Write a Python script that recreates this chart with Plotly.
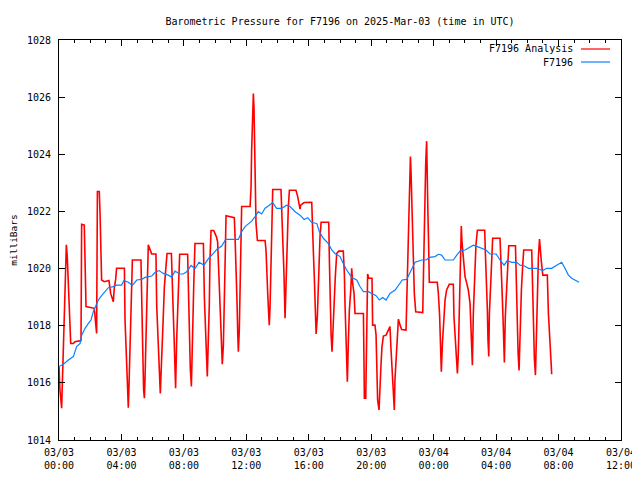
import plotly.graph_objects as go
import pandas as pd

TITLE = "Barometric Pressure for F7196 on 2025-Mar-03 (time in UTC)"
START = "2025-03-03 00:00"
END = "2025-03-04 12:00"

# Red "F7196 Analysis" series: hours after 2025-03-03 00:00 UTC and pressure (mb)
analysis_hours = [
    0.00, 0.06, 0.17, 0.21, 0.28, 0.38, 0.43, 0.47, 0.53, 0.60, 0.68, 0.75, 0.92, 1.02, 1.41, 1.45,
    1.62, 1.67, 1.73, 2.26, 2.35, 2.41, 2.46, 2.58, 2.63, 2.67, 2.73, 2.90, 3.20, 3.31, 3.42, 3.48,
    3.54, 3.63, 3.69, 4.19, 4.23, 4.33, 4.40, 4.44, 4.48, 4.55, 4.61, 4.70, 5.25, 5.30, 5.36, 5.42,
    5.47, 5.51, 5.57, 5.64, 5.68, 5.72, 5.94, 6.21, 6.26, 6.36, 6.43, 6.49, 6.53, 6.62, 6.68, 6.75,
    6.83, 6.92, 7.20, 7.24, 7.30, 7.37, 7.43, 7.47, 7.54, 7.62, 7.69, 7.73, 8.24, 8.29, 8.35, 8.41,
    8.48, 8.54, 8.63, 8.71, 9.25, 9.31, 9.40, 9.46, 9.50, 9.57, 9.63, 9.67, 9.74, 9.91, 10.08, 10.16,
    10.21, 10.27, 10.36, 10.42, 10.46, 10.53, 10.59, 10.63, 10.70, 11.23, 11.27, 11.34, 11.40, 11.45,
    11.49, 11.55, 11.62, 11.70, 12.24, 12.30, 12.34, 12.41, 12.45, 12.49, 12.53, 12.57, 12.62, 12.71,
    13.20, 13.26, 13.30, 13.37, 13.43, 13.47, 13.52, 13.58, 13.62, 13.69, 14.22, 14.26, 14.33, 14.41,
    14.48, 14.54, 14.63, 14.69, 14.76, 15.18, 15.29, 15.38, 15.44, 15.48, 15.70, 16.19, 16.25, 16.29,
    16.36, 16.42, 16.47, 16.55, 16.61, 16.68, 16.72, 16.79, 17.28, 17.32, 17.36, 17.43, 17.49, 17.55,
    17.62, 17.70, 17.79, 17.92, 18.21, 18.28, 18.32, 18.36, 18.43, 18.47, 18.54, 18.60, 18.69, 18.75,
    18.81, 18.90, 18.96, 19.50, 19.54, 19.56, 19.65, 19.67, 19.71, 19.77, 19.84, 20.05, 20.09, 20.24,
    20.31, 20.35, 20.41, 20.50, 20.56, 20.63, 20.69, 20.78, 20.95, 21.12, 21.20, 21.27, 21.35, 21.42,
    21.48, 21.52, 21.59, 21.68, 21.74, 21.85, 21.95, 22.23, 22.27, 22.38, 22.44, 22.51, 22.55, 22.59,
    22.66, 22.70, 22.76, 22.85, 23.30, 23.34, 23.38, 23.43, 23.49, 23.55, 23.59, 23.63, 23.68, 23.72,
    24.23, 24.30, 24.38, 24.41, 24.45, 24.49, 24.56, 24.67, 24.73, 24.83, 25.00, 25.26, 25.30, 25.39,
    25.45, 25.52, 25.58, 25.64, 25.69, 25.73, 25.77, 25.82, 25.90, 26.01, 26.12, 26.22, 26.33, 26.37,
    26.44, 26.48, 26.54, 26.61, 26.67, 26.71, 26.80, 27.27, 27.31, 27.38, 27.44, 27.48, 27.53, 27.57,
    27.66, 27.72, 27.78, 28.25, 28.29, 28.38, 28.44, 28.49, 28.53, 28.59, 28.68, 28.74, 28.81, 29.24,
    29.28, 29.34, 29.41, 29.47, 29.53, 29.62, 29.71, 29.77, 30.28, 30.34, 30.41, 30.45, 30.52, 30.58,
    30.64, 30.71, 30.78, 30.82, 30.90, 30.99, 31.28, 31.35, 31.45, 31.52, 31.56,
]
analysis_mb = [
    1016.57, 1015.75, 1015.11, 1015.87, 1017.27, 1018.67, 1020.12, 1020.83, 1020.42, 1019.48, 1017.79, 1017.38, 1017.38, 1017.44, 1017.48, 1021.55,
    1021.52, 1020.09, 1018.67, 1018.61, 1017.97, 1017.73, 1022.70, 1022.70, 1021.93, 1020.36, 1019.60, 1019.54, 1019.58, 1019.13, 1018.90, 1018.84,
    1019.31, 1019.62, 1020.01, 1020.01, 1018.20, 1016.97, 1015.75, 1015.13, 1015.81, 1017.09, 1018.32, 1020.30, 1020.30, 1018.43, 1017.27, 1015.75,
    1015.46, 1016.16, 1017.44, 1018.78, 1020.12, 1020.83, 1020.51, 1020.51, 1018.67, 1017.44, 1016.27, 1015.63, 1016.22, 1017.21, 1018.32, 1019.37,
    1020.12, 1020.53, 1020.53, 1020.01, 1018.78, 1017.62, 1016.39, 1015.81, 1017.56, 1018.78, 1019.95, 1020.50, 1020.50, 1019.13, 1017.67, 1016.51,
    1015.87, 1017.62, 1019.37, 1020.88, 1020.88, 1019.02, 1017.97, 1016.80, 1016.22, 1017.38, 1018.78, 1020.30, 1021.33, 1021.33, 1021.12, 1020.94,
    1020.30, 1019.31, 1018.26, 1017.21, 1016.65, 1017.32, 1018.55, 1019.95, 1021.85, 1021.78, 1021.23, 1020.18, 1018.90, 1017.71,
    1017.09, 1017.85, 1020.18, 1022.17, 1022.17, 1022.81, 1024.15, 1025.43, 1026.13, 1025.67, 1024.15, 1022.87, 1021.58, 1020.98,
    1020.98, 1020.65, 1019.83, 1019.13, 1018.43, 1018.02, 1018.67, 1019.83, 1021.00, 1022.77, 1022.77, 1022.28, 1021.06, 1019.83,
    1018.26, 1019.48, 1021.06, 1022.17, 1022.74, 1022.74, 1022.52, 1022.28, 1022.08, 1022.22, 1022.31, 1022.32, 1021.58, 1020.65,
    1019.60, 1018.32, 1017.71, 1018.32, 1019.48, 1020.30, 1021.12, 1021.62, 1021.62, 1020.30, 1019.02, 1017.67, 1017.09, 1017.97,
    1019.02, 1019.72, 1020.53, 1020.61, 1020.61, 1019.83, 1018.78, 1017.73, 1016.62, 1016.04, 1017.50, 1018.55, 1019.25, 1020.01,
    1019.48, 1019.13, 1018.43, 1018.43, 1016.57, 1015.46, 1015.46, 1016.57, 1018.72, 1019.81, 1019.66, 1019.66, 1018.02, 1018.02,
    1017.67, 1016.16, 1015.40, 1015.05, 1016.04, 1016.68, 1017.27, 1017.64, 1017.67, 1017.85, 1017.97, 1017.15, 1016.16, 1015.46,
    1015.05, 1016.10, 1016.80, 1017.50, 1018.23, 1018.02, 1017.87, 1017.85, 1018.90, 1021.23, 1023.10, 1023.92, 1023.39, 1022.52,
    1021.58, 1020.42, 1019.13, 1018.49, 1018.46, 1019.60, 1020.88, 1022.28, 1023.68, 1024.46, 1023.63, 1021.99, 1020.77, 1019.52,
    1019.52, 1019.13, 1018.37, 1017.62, 1016.80, 1016.39, 1017.38, 1018.32, 1018.90, 1019.25, 1019.45, 1019.45, 1018.32, 1017.50,
    1016.74, 1016.33, 1017.03, 1018.32, 1019.72, 1020.83, 1021.49, 1020.88, 1020.30, 1019.72, 1019.48, 1019.25, 1018.78, 1017.97,
    1017.15, 1016.62, 1018.43, 1019.48, 1020.18, 1020.83, 1021.34, 1021.34, 1020.59, 1019.72, 1018.55, 1017.50, 1016.92, 1018.43,
    1019.72, 1020.65, 1021.06, 1021.06, 1020.18, 1019.25, 1018.32, 1017.27, 1016.71, 1018.32, 1019.25, 1020.18, 1020.80, 1020.80,
    1019.77, 1018.08, 1017.03, 1016.43, 1018.08, 1019.25, 1020.18, 1020.65, 1020.65, 1019.02, 1017.97, 1016.86, 1016.27, 1017.85,
    1019.25, 1020.42, 1021.03, 1020.65, 1020.24, 1019.77, 1019.77, 1018.43, 1017.62, 1016.74, 1016.30,
]

# Blue "F7196" series
station_hours = [
    0.00, 0.28, 0.60, 0.92, 1.13, 1.35, 1.45, 1.67, 1.88, 2.05, 2.20, 2.35, 2.52, 2.73, 2.95, 3.16,
    3.48, 3.69, 4.01, 4.16, 4.44, 4.70, 4.98, 5.30, 5.51, 5.94, 6.15, 6.41, 6.68, 7.00, 7.22, 7.43,
    7.75, 7.96, 8.18, 8.46, 8.71, 8.97, 9.29, 9.57, 9.89, 10.10, 10.42, 10.68, 11.49, 11.70, 11.92,
    12.13, 12.34, 12.56, 12.77, 12.98, 13.20, 13.41, 13.69, 13.94, 14.26, 14.59, 14.80, 15.12, 15.44,
    15.70, 15.93, 16.19, 16.51, 16.68, 16.93, 17.25, 17.47, 17.68, 18.00, 18.21, 18.43, 18.75, 19.07,
    19.28, 19.50, 19.82, 20.09, 20.31, 20.52, 20.74, 20.95, 21.20, 21.53, 21.74, 21.99, 22.27, 22.49,
    22.81, 23.24, 23.52, 23.73, 24.09, 24.30, 24.51, 24.73, 25.26, 25.48, 25.69, 26.01, 26.22, 26.54,
    26.80, 27.08, 27.35, 27.61, 28.00, 28.25, 28.51, 28.72, 29.00, 29.32, 29.53, 29.79, 30.07, 30.60,
    30.81, 30.98, 31.24, 31.56, 31.88, 32.20, 32.41, 32.63, 32.84, 33.06, 33.31,
]
station_mb = [
    1016.57, 1016.65, 1016.80, 1016.92, 1017.27, 1017.38, 1017.67, 1017.91, 1018.08, 1018.20, 1018.49, 1018.69, 1018.90, 1019.05, 1019.19, 1019.33,
    1019.37, 1019.42, 1019.42, 1019.58, 1019.52, 1019.41, 1019.60, 1019.62, 1019.69, 1019.74, 1019.86, 1019.93, 1019.83, 1019.77, 1019.70, 1019.91,
    1019.81, 1019.81, 1019.89, 1020.11, 1020.00, 1020.22, 1020.12, 1020.35, 1020.53, 1020.67, 1020.79, 1021.02, 1021.02, 1021.29, 1021.47,
    1021.58, 1021.66, 1021.82, 1021.99, 1021.91, 1022.11, 1022.19, 1022.31, 1022.11, 1022.11, 1022.22, 1022.17, 1021.99, 1021.87,
    1021.72, 1021.78, 1021.61, 1021.58, 1021.29, 1021.06, 1020.88, 1020.65, 1020.53, 1020.42, 1020.18, 1019.95, 1019.69, 1019.60,
    1019.37, 1019.19, 1019.19, 1019.10, 1019.05, 1018.90, 1018.99, 1018.90, 1019.13, 1019.25, 1019.42, 1019.60, 1019.62, 1019.89,
    1020.22, 1020.30, 1020.30, 1020.39, 1020.42, 1020.50, 1020.47, 1020.30, 1020.30, 1020.47, 1020.61, 1020.65, 1020.71, 1020.82,
    1020.77, 1020.71, 1020.65, 1020.51, 1020.51, 1020.30, 1020.12, 1020.28, 1020.22, 1020.22, 1020.12, 1020.10, 1020.01, 1020.01,
    1019.98, 1019.93, 1020.01, 1020.01, 1020.12, 1020.22, 1020.01, 1019.77, 1019.66, 1019.60, 1019.52,
]

base = pd.Timestamp(START)
ax_t = base + pd.to_timedelta(analysis_hours, unit="h")
st_t = base + pd.to_timedelta(station_hours, unit="h")

RED = "#ff0000"
BLUE = "#0a80ff"
FONT = "DejaVu Sans Mono"

# page body has an 8px margin; figure is sized so the plot lands where the reference has it
W, H = 632, 472
L, R, T, B = 51, 19, 32, 40
PW = W - L - R
PH = H - T - B

fig = go.Figure()
fig.add_trace(go.Scatter(x=ax_t, y=analysis_mb, mode="lines", name="F7196 Analysis",
                         line=dict(color=RED, width=1.6)))
fig.add_trace(go.Scatter(x=st_t, y=station_mb, mode="lines", name="F7196",
                         line=dict(color=BLUE, width=1.2)))

fig.update_layout(
    width=W, height=H,
    margin=dict(l=L, r=R, t=T, b=B, autoexpand=False),
    paper_bgcolor="white", plot_bgcolor="white",
    font=dict(family=FONT, size=10, color="black"),
    showlegend=False,
    title=dict(text=TITLE, x=(L + PW / 2) / W, xanchor="center", y=1 - 13 / H, yanchor="middle",
               font=dict(family=FONT, size=10, color="black")),
    xaxis=dict(
        type="date", range=[START, END], dtick=4 * 3600 * 1000, tick0=START,
        tickformat="%m/%d<br>%H:%M", ticks="inside", ticklen=6, tickcolor="black",
        showline=True, linecolor="black", linewidth=1, mirror="ticks",
        showgrid=False, zeroline=False, automargin=False, ticklabelstandoff=3,
        minor=dict(dtick=3600 * 1000, ticks="inside", ticklen=3, tickcolor="black", showgrid=False),
        tickfont=dict(family=FONT, size=10),
    ),
    yaxis=dict(
        range=[1014, 1028], dtick=2, tick0=1014, tickformat="d",
        ticks="inside", ticklen=6, tickcolor="black",
        showline=True, linecolor="black", linewidth=1, mirror="ticks",
        showgrid=False, zeroline=False, automargin=False, ticklabelstandoff=5,
        title=dict(text="milliBars", font=dict(family=FONT, size=9.5), standoff=8),
        tickfont=dict(family=FONT, size=10),
    ),
)

# gnuplot-style legend: right-aligned labels with line samples to their right
legend_items = [("F7196 Analysis", RED, 9), ("F7196", BLUE, 22)]
for label, color, dy in legend_items:
    yp = 1 - dy / PH
    fig.add_annotation(text=label, xref="paper", yref="paper", x=(575 - 59) / PW, y=yp,
                       xanchor="right", yanchor="middle", showarrow=False,
                       font=dict(family=FONT, size=10, color="black"))
    fig.add_shape(type="line", xref="paper", yref="paper",
                  x0=(581 - 59) / PW, x1=(610 - 59) / PW, y0=yp, y1=yp,
                  line=dict(color=color, width=1.2))

fig.write_html("out.html")
